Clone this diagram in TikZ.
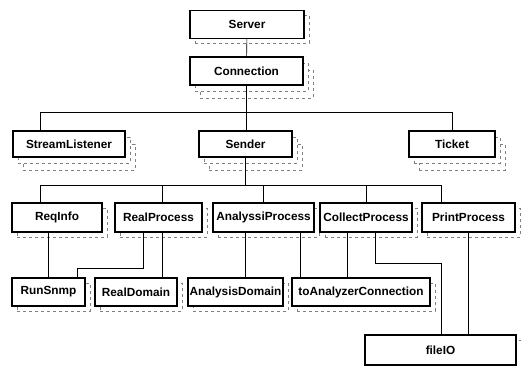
\documentclass[tikz,border=0pt]{standalone}
\usepackage{fontspec}
\setmainfont{Liberation Sans}
\usepackage{tikz}
\usetikzlibrary{shadows}
\tikzset{shade line/.style={fill=white, draw=gray, dashed, line width=0.4pt}}
\tikzset{cls/.style={draw=black, line width=1.1pt, fill=white, inner sep=0pt,
  minimum height=28pt, font=\bfseries\fontsize{11.8}{14}\selectfont}}
\tikzset{one shadow/.style={general shadow={shade line, shadow xshift=5pt, shadow yshift=-5pt}}}
\tikzset{two shadows/.style={general shadow={shade line, shadow xshift=10pt, shadow yshift=-13pt},
  general shadow={shade line, shadow xshift=5pt, shadow yshift=-6pt}}}
\tikzset{link/.style={draw=black, line width=0.6pt}}

\begin{document}
\begin{tikzpicture}[x=1pt,y=-1pt]
\useasboundingbox (0,0) rectangle (521,366);

\node[cls,one shadow,minimum width=114pt] (server) at (247,24.5) {Server};
\node[cls,two shadows,minimum width=113pt] (connection) at (246.5,71) {Connection};

\node[cls,two shadows,minimum width=112pt,minimum height=26pt] (listener) at (69,144) {StreamListener};
\node[cls,two shadows,minimum width=93pt,minimum height=26pt] (sender) at (245.5,144) {Sender};
\node[cls,two shadows,minimum width=86pt,minimum height=26pt] (ticket) at (452,144) {Ticket};

\node[cls,one shadow,minimum width=90pt,minimum height=29pt] (reqinfo) at (57,217.5) {ReqInfo};
\node[cls,one shadow,minimum width=87pt,minimum height=29pt] (realproc) at (158.5,217.5) {RealProcess};
\node[cls,one shadow,minimum width=101pt,minimum height=29pt] (analproc) at (263.5,217.5) {AnalyssiProcess};
\node[cls,one shadow,minimum width=92pt,minimum height=29pt] (collproc) at (366,217.5) {CollectProcess};
\node[cls,one shadow,minimum width=93pt,minimum height=29pt] (printproc) at (468.5,217.5) {PrintProcess};

\node[cls,one shadow,minimum width=73pt] (runsnmp) at (48.5,292) {RunSnmp};
\node[cls,one shadow,minimum width=82pt] (realdom) at (136,292) {RealDomain};
\node[cls,one shadow,minimum width=95pt] (analdom) at (235.5,292) {AnalysisDomain};
\node[cls,one shadow,minimum width=138pt] (toanal) at (361,292) {toAnalyzerConnection};
\node[cls,one shadow,minimum width=151pt,minimum height=30pt] (fileio) at (440.5,350) {fileIO};

\coordinate (l1) at (40,112);
\coordinate (r1) at (452,112);
\coordinate (l2) at (40,185);
\coordinate (r2) at (441,185);
\coordinate (rptap) at (162,185);
\coordinate (rsbend) at (143,268);
\coordinate (rsin) at (77,268);
\coordinate (adx) at (245,250);
\coordinate (tax) at (300,250);
\coordinate (tcx) at (347,250);
\coordinate (cfbend) at (375,263);
\coordinate (cfin) at (441,263);
\coordinate (pfx) at (468,300);

\draw[link] (server) -- (connection);
\draw[link] (connection.south) -- (connection.south |- sender.north);
\draw[link] (l1 |- listener.north) -- (l1) -- (r1) -- (r1 |- ticket.north);

\draw[link] (sender.south) -- (sender.south |- l2);
\draw[link] (l2 |- reqinfo.north) -- (l2) -- (r2) -- (r2 |- printproc.north);
\draw[link] (rptap) -- (rptap |- realproc.north);
\foreach \n in {analproc,collproc}
  \draw[link] (\n.north) -- (\n.north |- l2);

\draw[link] (runsnmp.north |- reqinfo.south) -- (runsnmp.north);
\draw[link] (rsbend |- realproc.south) -- (rsbend) -- (rsin) -- (rsin |- runsnmp.north);
\draw[link] (rptap |- realproc.south) -- (rptap |- realdom.north);
\draw[link] (adx |- analproc.south) -- (adx |- analdom.north);
\draw[link] (tax |- analproc.south) -- (tax |- toanal.north);
\draw[link] (tcx |- collproc.south) -- (tcx |- toanal.north);
\draw[link] (cfbend |- collproc.south) -- (cfbend) -- (cfin) -- (cfin |- fileio.north);
\draw[link] (pfx |- printproc.south) -- (pfx |- fileio.north);
\end{tikzpicture}
\end{document}
